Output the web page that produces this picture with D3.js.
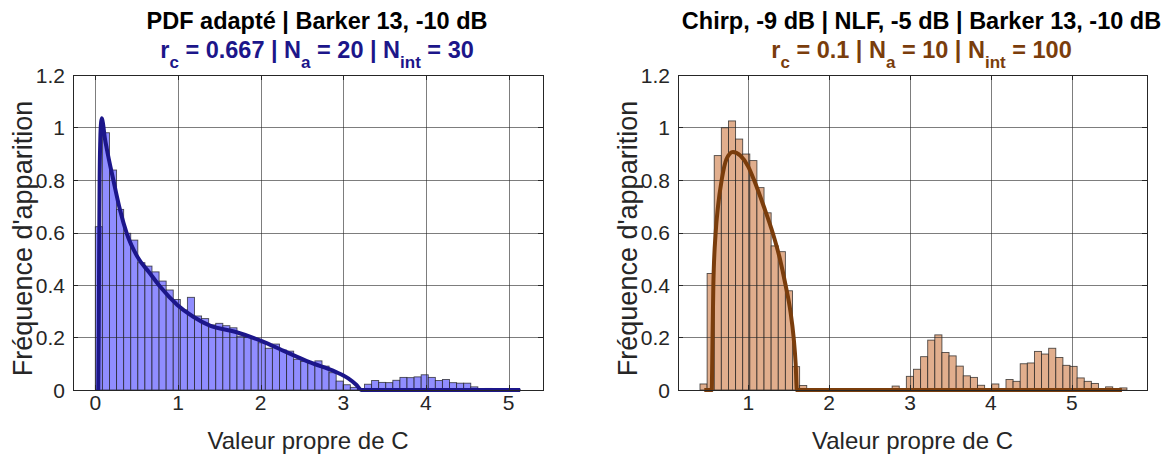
<!DOCTYPE html>
<html>
<head>
<meta charset="utf-8">
<script src="https://cdn.jsdelivr.net/npm/d3@7"></script>
<style>
body { margin: 0; background: #fff; }
svg { display: block; font-family: "Liberation Sans", Arial, Helvetica, sans-serif; }
text { white-space: pre; }
</style>
</head>
<body>
<svg id="chart" width="1174" height="458"></svg>
<script>
// ---- data ----

// left panel : PDF adapté | Barker 13, -10 dB
const leftBinStart = 0
const leftBinWidth = 0.0857
const leftCounts = [
    0.622, 0.980, 0.838, 0.688, 0.597, 0.571, 0.485, 0.472, 0.450, 0.415,
    0.381, 0.345, 0.305, 0.353, 0.282, 0.272, 0.248, 0.254, 0.245, 0.237,
    0.205, 0.200, 0.197, 0.180, 0.159, 0.175, 0.152, 0.148, 0.117, 0.109,
    0.102, 0.111, 0.091, 0.066, 0.034, 0.020, 0.010, 0.004, 0.022, 0.036,
    0.029, 0.028, 0.037, 0.048, 0.047, 0.050, 0.058, 0.048, 0.036, 0.040,
    0.028, 0.026, 0.026, 0.012, 0.004, 0.006, 0.003, 0.004, 0.002, 0.001
]
const leftCurveX = [0.036, 0.042, 0.046, 0.052, 0.06, 0.07, 0.08, 0.095, 0.115, 0.138, 0.218, 0.299, 0.38, 0.508, 0.662, 0.783, 0.992, 1.185, 1.387, 1.69, 2.0, 2.3, 2.6, 2.9, 3.06, 3.16, 3.22, 5.14]
const leftCurveY = [0, 0.25, 0.5, 0.8, 0.95, 1.02, 1.035, 1.01, 0.96, 0.92, 0.80, 0.686, 0.597, 0.508, 0.444, 0.394, 0.324, 0.279, 0.245, 0.222, 0.188, 0.146, 0.105, 0.07, 0.044, 0.019, 0, 0]

// right panel : Chirp | NLF | Barker 13
const rightBinStart = 0.402
const rightBinWidth = 0.088
const rightCounts = [
    0.023, 0.444, 0.893, 0.999, 1.025, 0.956, 0.899, 0.874, 0.771, 0.675,
    0.549, 0.527, 0.378, 0.089, 0.017, 0, 0, 0, 0, 0,
    0, 0, 0, 0, 0, 0, 0, 0.015, 0, 0.052,
    0.079, 0.127, 0.190, 0.210, 0.143, 0.130, 0.091, 0.054, 0.048, 0.018,
    0, 0.023, 0, 0.040, 0.033, 0.100, 0.103, 0.147, 0.137, 0.159,
    0.124, 0.094, 0.090, 0.046, 0.033, 0.025, 0, 0.012, 0, 0.008
]
const rightCurveX = [0.455, 0.547, 0.553, 0.557, 0.567, 0.596, 0.625, 0.67, 0.73, 0.81, 0.9, 1.0, 1.07, 1.19, 1.30, 1.39, 1.46, 1.52, 1.56, 1.585, 1.60, 5.62]
const rightCurveY = [0, 0, 0.1, 0.2, 0.4, 0.6, 0.7, 0.8, 0.88, 0.907, 0.893, 0.85, 0.8, 0.7, 0.6, 0.5, 0.4, 0.3, 0.2, 0.1, 0, 0]

const yTicks = [0, 0.2, 0.4, 0.6, 0.8, 1, 1.2]
const yTickLabels = ["0", "0.2", "0.4", "0.6", "0.8", "1", "1.2"]
const leftXTicks = [0, 1, 2, 3, 4, 5]
const rightXTicks = [1, 2, 3, 4, 5]

const leftTitle = "PDF adapté | Barker 13, -10 dB"
const rightTitle = "Chirp, -9 dB | NLF, -5 dB | Barker 13, -10 dB"
// [text, isSubscript]
const leftSubtitle = [["r", 0], ["c", 1], [" = 0.667 | N", 0], ["a", 1], [" = 20 | N", 0], ["int", 1], [" = 30", 0]]
const rightSubtitle = [["r", 0], ["c", 1], [" = 0.1 | N", 0], ["a", 1], [" = 10 | N", 0], ["int", 1], [" = 100", 0]]

const xLabel = "Valeur propre de C"
const yLabel = "Fréquence d'apparition"

// ---- drawing ----
const svg = d3.select("#chart")

let add_subtitle = function (g, cx, y, parts, color) {
    let t = g.append("text")
        .attr("x", cx).attr("y", y)
        .attr("text-anchor", "middle")
        .style("font-weight", "bold")
        .style("font-size", "23.5px")
        .attr("fill", color)
    let shifted = false
    parts.forEach(p => {
        let sp = t.append("tspan").text(p[0])
        if (p[1]) {
            sp.style("font-size", "17px")
            if (!shifted) { sp.attr("dy", 10); shifted = true }
        } else if (shifted) {
            sp.attr("dy", -10); shifted = false
        }
    })
}

let draw_panel = function (p) {
    let g = svg.append("g")

    const x = d3.scaleLinear().domain(p.xDomain).range([p.left, p.right])
    const y = d3.scaleLinear().domain([0, 1.2]).range([p.bottom, p.top])
    const crisp = v => Math.round(v) + 0.5

    // bars
    let bins = p.counts.map((v, i) => ({x0: p.binStart + i * p.binWidth, x1: p.binStart + (i + 1) * p.binWidth, v: v}))
        .filter(d => d.v > 0)
    g.append("g").selectAll("rect")
        .data(bins)
        .join("rect")
        .attr("x", d => x(d.x0))
        .attr("width", d => x(d.x1) - x(d.x0))
        .attr("y", d => y(d.v))
        .attr("height", d => y(0) - y(d.v))
        .attr("fill", p.barColor)
        .attr("stroke", "#1a1a1a")
        .attr("stroke-opacity", 0.75)
        .attr("stroke-width", 0.9)

    // grid
    let grid = g.append("g").attr("stroke", "#262626").attr("stroke-opacity", 0.6).attr("stroke-width", 1)
    p.xTicks.forEach(t => {
        grid.append("line").attr("x1", crisp(x(t))).attr("x2", crisp(x(t))).attr("y1", p.top).attr("y2", p.bottom)
    })
    yTicks.filter(t => t > 0 && t < 1.2).forEach(t => {
        grid.append("line").attr("y1", crisp(y(t))).attr("y2", crisp(y(t))).attr("x1", p.left).attr("x2", p.right)
    })

    // fitted pdf
    let line = d3.line().x(d => x(d[0])).y(d => y(d[1])).curve(d3.curveMonotoneX)
    g.append("path")
        .datum(p.curveX.map((v, i) => [v, p.curveY[i]]))
        .attr("d", line)
        .attr("fill", "none")
        .attr("stroke", p.lineColor)
        .attr("stroke-width", 4)
        .attr("stroke-linejoin", "round")

    // box + ticks
    g.append("rect")
        .attr("x", crisp(p.left)).attr("y", crisp(p.top))
        .attr("width", Math.round(p.right - p.left)).attr("height", Math.round(p.bottom - p.top))
        .attr("fill", "none").attr("stroke", "#262626").attr("stroke-width", 1)

    let ticks = g.append("g").attr("stroke", "#262626").attr("stroke-width", 1)
    p.xTicks.forEach(t => {
        ticks.append("line").attr("x1", crisp(x(t))).attr("x2", crisp(x(t))).attr("y1", p.bottom).attr("y2", p.bottom - 5)
        ticks.append("line").attr("x1", crisp(x(t))).attr("x2", crisp(x(t))).attr("y1", p.top).attr("y2", p.top + 5)
    })
    yTicks.forEach(t => {
        ticks.append("line").attr("y1", crisp(y(t))).attr("y2", crisp(y(t))).attr("x1", p.left).attr("x2", p.left + 5)
        ticks.append("line").attr("y1", crisp(y(t))).attr("y2", crisp(y(t))).attr("x1", p.right).attr("x2", p.right - 5)
    })

    // tick labels
    g.append("g").selectAll("text")
        .data(p.xTicks)
        .join("text")
        .attr("x", d => x(d))
        .attr("y", p.bottom + 20)
        .attr("text-anchor", "middle")
        .style("font-size", "21px")
        .attr("fill", "#262626")
        .text(d => d)

    g.append("g").selectAll("text")
        .data(yTicks)
        .join("text")
        .attr("x", p.left - 8)
        .attr("y", d => y(d))
        .attr("dy", "0.36em")
        .attr("text-anchor", "end")
        .style("font-size", "21px")
        .attr("fill", "#262626")
        .text((d, i) => yTickLabels[i])

    // axis labels
    g.append("text")
        .attr("x", (p.left + p.right) / 2)
        .attr("y", 449)
        .attr("text-anchor", "middle")
        .style("font-size", "24px")
        .attr("fill", "#262626")
        .text(xLabel)

    g.append("text")
        .attr("transform", "translate(" + (p.left - 41) + "," + ((p.top + p.bottom) / 2 + 6) + ") rotate(-90)")
        .attr("text-anchor", "middle")
        .style("font-size", "27px")
        .attr("fill", "#262626")
        .text(yLabel)

    // titles
    let cx = (p.left + p.right) / 2 + 9
    g.append("text")
        .attr("x", cx).attr("y", 29)
        .attr("text-anchor", "middle")
        .style("font-weight", "bold")
        .style("font-size", "23.5px")
        .attr("fill", "#000")
        .text(p.title)
    add_subtitle(g, cx, 58, p.subtitle, p.lineColor)
}

draw_panel({
    left: 73, right: 543, top: 75, bottom: 390,
    xDomain: [-0.27, 5.416],
    xTicks: leftXTicks,
    counts: leftCounts, binStart: leftBinStart, binWidth: leftBinWidth,
    curveX: leftCurveX, curveY: leftCurveY,
    barColor: "#908dff", lineColor: "#1c168a",
    title: leftTitle, subtitle: leftSubtitle
})

draw_panel({
    left: 678, right: 1147, top: 75, bottom: 390,
    xDomain: [0.13, 5.93],
    xTicks: rightXTicks,
    counts: rightCounts, binStart: rightBinStart, binWidth: rightBinWidth,
    curveX: rightCurveX, curveY: rightCurveY,
    barColor: "#e1ae8d", lineColor: "#7a3d0c",
    title: rightTitle, subtitle: rightSubtitle
})
</script>
</body>
</html>
